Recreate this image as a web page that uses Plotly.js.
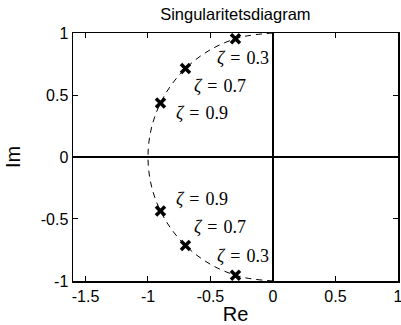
<!DOCTYPE html>
<html>
<head>
<meta charset="utf-8">
<script src="https://cdn.plot.ly/plotly-3.0.1.min.js"></script>
<style>html,body{margin:0;padding:0;background:#fff;}#plot{width:401px;height:325px;}</style>
</head>
<body>
<div id="plot"></div>
<script>
// Pole positions
const zetas = ["0.3", "0.7", "0.9"];
const poleRe = [-0.3, -0.7, -0.9, -0.9, -0.7, -0.3];
const poleIm = [0.954, 0.714, 0.436, -0.436, -0.714, -0.954];
// Dashed arc (left half of unit circle)
const arcRe = [0, -0.259, -0.5, -0.707, -0.866, -0.966, -1, -0.966, -0.866, -0.707, -0.5, -0.259, 0];
const arcIm = [1, 0.966, 0.866, 0.707, 0.5, 0.259, 0, -0.259, -0.5, -0.707, -0.866, -0.966, -1];
// Label anchors (right end, vertical centre)
const labelText = ["0.3", "0.7", "0.9", "0.9", "0.7", "0.3"];
const labelRe = [-0.012, -0.2, -0.34, -0.34, -0.2, -0.012];
const labelIm = [0.80, 0.576, 0.354, -0.339, -0.567, -0.80];
// Axis ticks
const xTicks = [-1.5, -1, -0.5, 0, 0.5, 1];
const xTickText = ["-1.5", "-1", "-0.5", "0", "0.5", "1"];
const yTicks = [-1, -0.5, 0, 0.5, 1];
const yTickText = ["-1", "-0.5", "0", "0.5", "1"];

const traces = [
  {x: arcRe, y: arcIm, type: "scatter", mode: "lines",
   line: {color: "#000", width: 1, dash: "6px,5px", shape: "spline"}, hoverinfo: "skip"},
  {x: poleRe, y: poleIm, type: "scatter", mode: "markers", cliponaxis: false,
   marker: {symbol: "x-thin-open", size: 9, color: "#000", line: {color: "#000", width: 3.5}}}
];

const annotations = labelText.map((t, i) => ({
  x: labelRe[i], y: labelIm[i], xref: "x", yref: "y",
  text: "<i>ζ</i>\u2004=\u2004" + t,
  showarrow: false, xanchor: "right", yanchor: "middle",
  font: {family: "Liberation Serif, serif", size: 18, color: "#000"}
}));

const axisCommon = {
  showgrid: false, zeroline: true, zerolinecolor: "#000", zerolinewidth: 1.5,
  showline: true, linecolor: "#000", linewidth: 1.5, mirror: "ticks",
  ticks: "inside", ticklen: 5, tickwidth: 1, tickcolor: "#000",
  tickfont: {family: "Liberation Sans, Arial, sans-serif", size: 16, color: "#000"},
  ticklabeloverflow: "allow",
  tickmode: "array", fixedrange: true
};

const layout = {
  width: 401, height: 325,
  margin: {l: 73, r: 3, t: 33, b: 44, pad: 0},
  paper_bgcolor: "#fff", plot_bgcolor: "#fff",
  showlegend: false,
  title: {text: "Singularitetsdiagram", x: 0.587, xanchor: "center", y: 0.955, yanchor: "middle",
          font: {family: "Liberation Sans, Arial, sans-serif", size: 16.5, color: "#000"}},
  xaxis: Object.assign({}, axisCommon, {
    range: [-1.6, 1.0005], tickvals: xTicks, ticktext: xTickText,
    title: {text: "Re", standoff: 4, font: {family: "Liberation Sans, Arial, sans-serif", size: 20, color: "#000"}}
  }),
  yaxis: Object.assign({}, axisCommon, {
    range: [-1.0005, 1.0005], tickvals: yTicks, ticktext: yTickText,
    title: {text: "Im", standoff: 14, font: {family: "Liberation Sans, Arial, sans-serif", size: 20, color: "#000"}}
  }),
  annotations: annotations
};

Plotly.newPlot("plot", traces, layout, {displayModeBar: false, staticPlot: true});
</script>
</body>
</html>
